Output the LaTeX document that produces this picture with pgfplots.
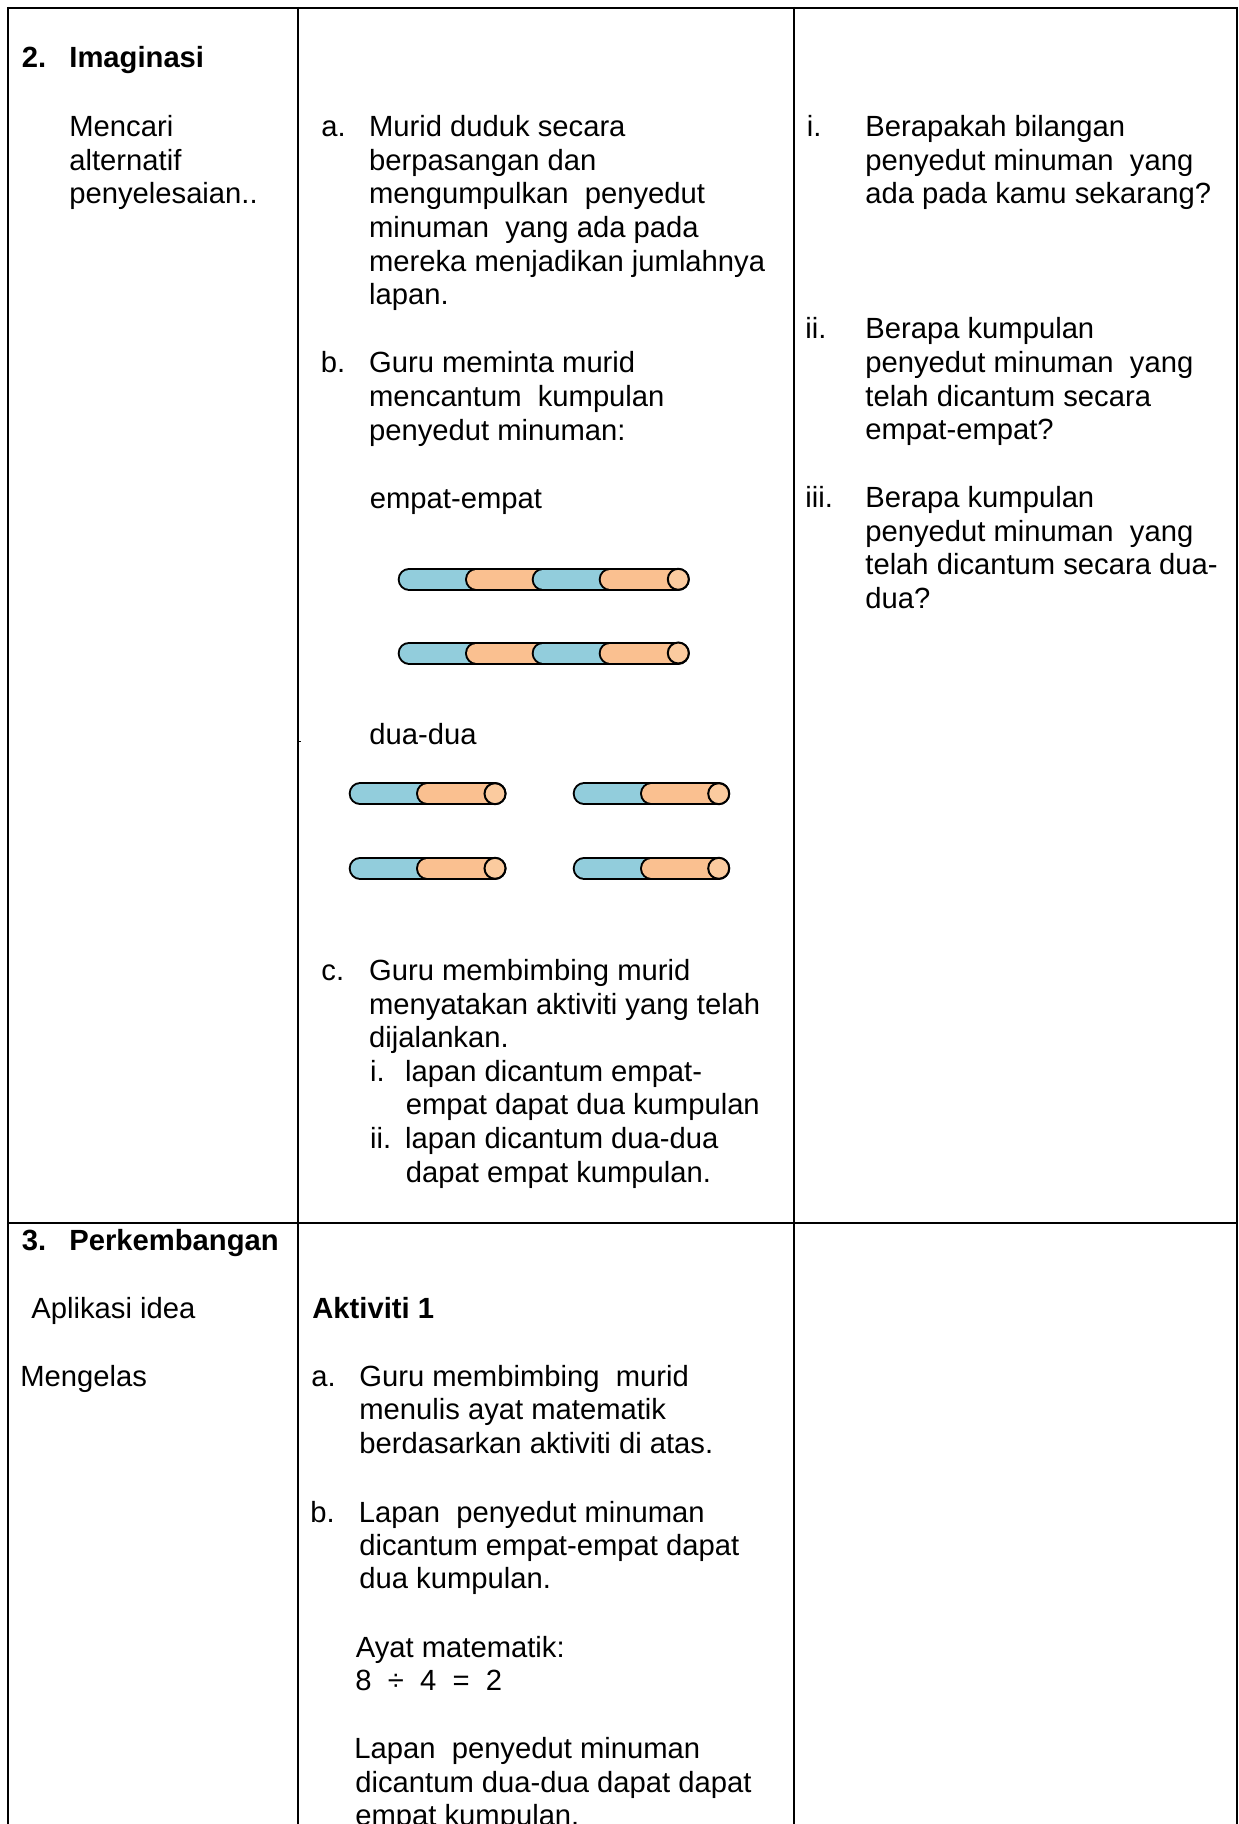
\documentclass[border=0pt]{standalone}
\usepackage{pgfplots}
\pgfplotsset{compat=1.18}
\usepackage{fontspec}
\setmainfont{Liberation Sans}
\definecolor{strawblue}{HTML}{92CDDC}
\definecolor{strawor}{HTML}{FAC090}
\definecolor{strawend}{HTML}{FBCB9F}
\newcommand{\T}[3]{\node[anchor=base west,inner sep=0pt,text=black] at (axis cs:#1,#2) {\strut #3};}
\newcommand{\seg}[4]{%
 \addplot[black,line width=11.5pt,line cap=round,forget plot] coordinates {(#1,#3) (#2,#3)};
 \addplot[#4,line width=9.5pt,line cap=round,forget plot] coordinates {(#1,#3) (#2,#3)};}
\newcommand{\strawend}[2]{\addplot[only marks,mark=*,mark size=5.25pt,mark options={fill=strawend,draw=black,line width=1pt},forget plot] coordinates {(#1,#2)};}
\begin{document}
\begin{tikzpicture}[x=1pt,y=1pt]
\path[use as bounding box,clip] (0,0) rectangle (619pt,912pt);
\begin{axis}[at={(0,0)},anchor=south west,scale only axis,width=619pt,height=912pt,
 xmin=0,xmax=1238,ymin=0,ymax=1824,y dir=reverse,hide axis,clip=false]
% table rules
\addplot[black,line width=1.1pt,forget plot] coordinates {(7,7.7) (1237.5,7.7)};
\addplot[black,line width=1.1pt,forget plot] coordinates {(8,7) (8,1824)};
\addplot[black,line width=1.1pt,forget plot] coordinates {(298,7) (298,1824)};
\addplot[black,line width=1.1pt,forget plot] coordinates {(794,7) (794,1824)};
\addplot[black,line width=1.1pt,forget plot] coordinates {(1236.7,7) (1236.7,1824)};
\addplot[black,line width=1.1pt,forget plot] coordinates {(8,1223.3) (1237,1223.3)};
\addplot[black,line width=0.6pt,forget plot] coordinates {(298,741.7) (300.5,741.7)};
% straws, four
\seg{409.2}{490}{579.3}{strawblue}
\seg{476.5}{556}{579.3}{strawor}
\seg{543.2}{624}{579.3}{strawblue}
\seg{610.2}{678.3}{579.3}{strawor}
\strawend{678.3}{579.3}
\seg{409.2}{490}{653}{strawblue}
\seg{476.5}{556}{653}{strawor}
\seg{543.2}{624}{653}{strawblue}
\seg{610.2}{678.3}{653}{strawor}
\strawend{678.3}{653}
% straws, two
\seg{360.2}{440}{793.7}{strawblue}
\seg{427.5}{495}{793.7}{strawor}
\strawend{495}{793.7}
\seg{584.2}{664}{793.7}{strawblue}
\seg{651.5}{718.7}{793.7}{strawor}
\strawend{718.7}{793.7}
\seg{360.2}{440}{868.3}{strawblue}
\seg{427.5}{495}{868.3}{strawor}
\strawend{495}{868.3}
\seg{584.2}{664}{868.3}{strawblue}
\seg{651.5}{718.7}{868.3}{strawor}
\strawend{718.7}{868.3}
% text
\fontsize{14.6}{17}\selectfont
\T{21.5}{68}{\textbf{2.}}
\T{69}{68}{\textbf{Imaginasi}}
\T{69}{137}{Mencari}
\T{69}{171}{alternatif}
\T{69}{204}{penyelesaian..}
\T{21.5}{1250}{\textbf{3.}}
\T{69}{1250}{\textbf{Perkembangan}}
\T{31}{1318}{Aplikasi idea}
\T{20}{1386.5}{Mengelas}
% col 2 upper
\T{321}{136.7}{a.}
\T{368.7}{136.7}{Murid duduk secara}
\T{368.7}{170.7}{berpasangan dan}
\T{368.7}{204}{mengumpulkan\ \ penyedut}
\T{368.7}{237.3}{minuman\ \ yang ada pada}
\T{368.7}{271.3}{mereka menjadikan jumlahnya}
\T{368.7}{304.7}{lapan.}
\T{320.5}{372.7}{b.}
\T{368.7}{372.7}{Guru meminta murid}
\T{368.7}{406.7}{mencantum\ \ kumpulan}
\T{368.7}{440}{penyedut minuman:}
\T{369.5}{508}{empat-empat}
\T{369}{744}{dua-dua}
\T{321}{980.7}{c.}
\T{368.7}{980.7}{Guru membimbing murid}
\T{368.7}{1014}{menyatakan aktiviti yang telah}
\T{368.7}{1047.3}{dijalankan.}
\T{369.7}{1081.3}{i.}
\T{404.7}{1081.3}{lapan dicantum empat-}
\T{405.5}{1114.7}{empat dapat dua kumpulan}
\T{369.7}{1148.7}{ii.}
\T{404.7}{1148.7}{lapan dicantum dua-dua}
\T{405.5}{1182}{dapat empat kumpulan.}
% col 2 lower
\T{312}{1318}{\textbf{Aktiviti 1}}
\T{311}{1386.7}{a.}
\T{359}{1386.7}{Guru membimbing\ \ murid}
\T{359}{1419.3}{menulis ayat matematik}
\T{359}{1453.3}{berdasarkan aktiviti di atas.}
\T{310}{1522}{b.}
\T{358.5}{1522}{Lapan\ \ penyedut minuman}
\T{359}{1555.3}{dicantum empat-empat dapat}
\T{359}{1588.7}{dua kumpulan.}
\T{355.5}{1657}{Ayat matematik:}
\T{355}{1690}{8\ \ ÷\ \ 4\ \ =\ \ 2}
\T{354}{1758}{Lapan\ \ penyedut minuman}
\T{355}{1792}{dicantum dua-dua dapat dapat}
\T{355}{1825}{empat kumpulan.}
% col 3
\T{806.5}{137}{i.}
\T{865}{137}{Berapakah bilangan}
\T{865}{171}{penyedut minuman\ \ yang}
\T{865}{204}{ada pada kamu sekarang?}
\T{805}{338.7}{ii.}
\T{865}{338.7}{Berapa kumpulan}
\T{865}{372.7}{penyedut minuman\ \ yang}
\T{865}{406}{telah dicantum secara}
\T{865}{439.3}{empat-empat?}
\T{805}{507.3}{iii.}
\T{865}{507.3}{Berapa kumpulan}
\T{865}{541.3}{penyedut minuman\ \ yang}
\T{865}{574.7}{telah dicantum secara dua-}
\T{865}{608}{dua?}
\end{axis}
\end{tikzpicture}
\end{document}
